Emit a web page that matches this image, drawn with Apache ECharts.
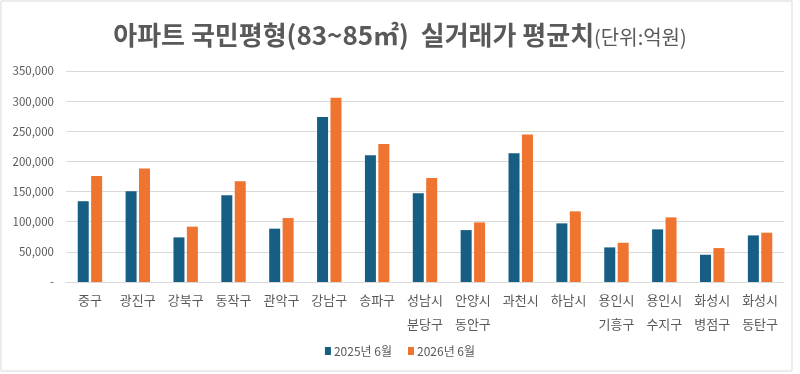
<!DOCTYPE html>
<html>
<head>
<meta charset="utf-8">
<script src="https://cdn.jsdelivr.net/npm/echarts@6/dist/echarts.min.js"></script>
<style>
  html, body { margin: 0; padding: 0; background: #fff; }
  #chart { width: 800px; height: 374px; }
</style>
</head>
<body>
<div id="chart"></div>
<script>
// 지역 / 실거래가 평균치
var categories = ['중구', '광진구', '강북구', '동작구', '관악구', '강남구', '송파구',
  '성남시\n분당구', '안양시\n동안구', '과천시', '하남시', '용인시\n기흥구',
  '용인시\n수지구', '화성시\n병점구', '화성시\n동탄구'];
var seriesNames = ['2025년 6월', '2026년 6월'];
var values2025 = [134000, 150500, 74000, 143800, 88500, 273500, 210300,
  147100, 86100, 213700, 97300, 57400, 87300, 45200, 77300];
var values2026 = [176000, 188300, 91800, 167100, 106100, 305600, 229100,
  172600, 98900, 244700, 117200, 65100, 107200, 56300, 81800];
var yTicks = [0, 50000, 100000, 150000, 200000, 250000, 300000, 350000];

var font = '"Noto Sans CJK KR", "Noto Sans", sans-serif';
var textColor = '#595959';

var myChart = echarts.init(document.getElementById('chart'));
var option = {
  animation: false,
  textStyle: { fontFamily: font },
  graphic: [{
    type: 'rect',
    shape: { x: 1, y: 1, width: 791, height: 370 },
    style: { fill: 'none', stroke: '#d9d9d9', lineWidth: 1 },
    silent: true
  }],
  title: {
    text: '{a|아파트 국민평형(83~85㎡)  실거래가 평균치}{b|(단위:억원)}',
    left: 'center',
    top: 17,
    textStyle: {
      rich: {
        a: { fontFamily: font, fontSize: 26, fontWeight: 'bold', color: textColor },
        b: { fontFamily: font, fontSize: 20, fontWeight: 'normal', color: textColor, padding: [4, 0, 0, 0] }
      }
    }
  },
  legend: {
    data: seriesNames,
    bottom: 12,
    left: 'center',
    itemWidth: 6,
    itemHeight: 8,
    itemGap: 16,
    icon: 'rect',
    textStyle: { fontFamily: font, fontSize: 12, color: textColor, padding: [0, 0, 0, -2] }
  },
  grid: { left: 66, right: 16, top: 71, bottom: 92 },
  xAxis: {
    type: 'category',
    data: categories,
    axisTick: { show: false },
    axisLine: { lineStyle: { color: '#d9d9d9' } },
    axisLabel: {
      interval: 0,
      color: textColor,
      fontSize: 13,
      lineHeight: 24,
      margin: 6,
      verticalAlign: 'top'
    }
  },
  yAxis: {
    type: 'value',
    min: yTicks[0],
    max: yTicks[yTicks.length - 1],
    interval: 50000,
    axisLine: { show: false },
    axisTick: { show: false },
    splitLine: { lineStyle: { color: '#d9d9d9' } },
    axisLabel: {
      color: textColor,
      fontSize: 11.5,
      margin: 12,
      formatter: function (v) {
        return v === 0 ? '-' : v.toLocaleString('en-US');
      }
    }
  },
  series: [{
    name: seriesNames[0],
    type: 'bar',
    data: values2025,
    barWidth: 11,
    barGap: '22%',
    itemStyle: { color: '#175e84' }
  }, {
    name: seriesNames[1],
    type: 'bar',
    data: values2026,
    barWidth: 11,
    itemStyle: { color: '#ee7430' }
  }]
};
myChart.setOption(option);
window.onresize = myChart.resize;
</script>
</body>
</html>
